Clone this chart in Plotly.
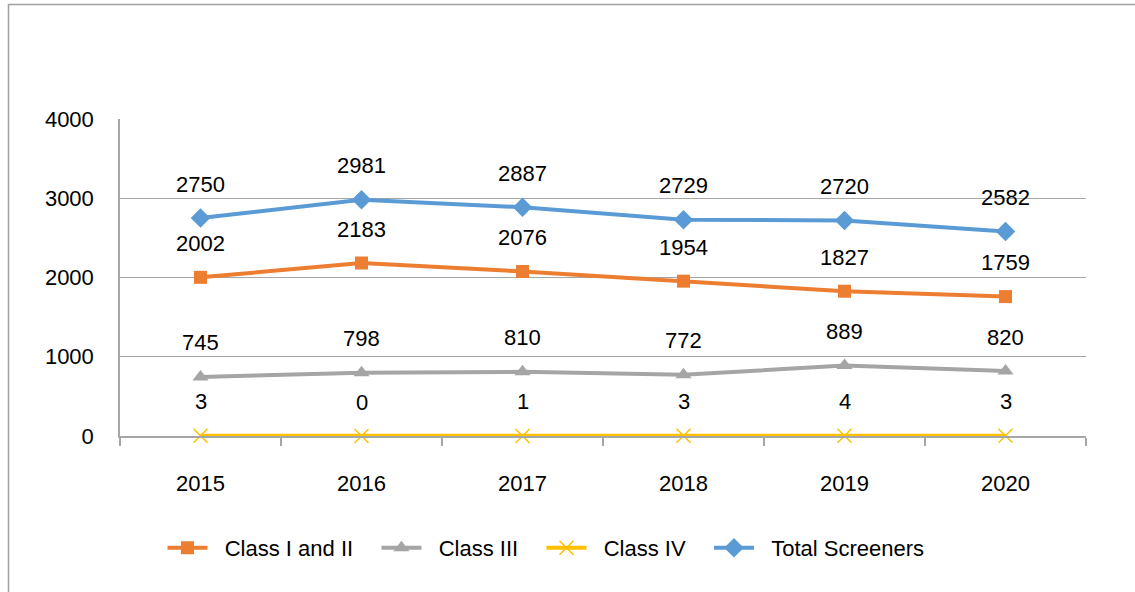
import plotly.graph_objects as go

years = ["2015", "2016", "2017", "2018", "2019", "2020"]
class_1_2 = [2002, 2183, 2076, 1954, 1827, 1759]
class_3 = [745, 798, 810, 772, 889, 820]
class_4 = [3, 0, 1, 3, 4, 3]
total = [2750, 2981, 2887, 2729, 2720, 2582]

series = [
    ("Class I and II", class_1_2, "#ED7D31", "square"),
    ("Class III", class_3, "#A5A5A5", "triangle-up"),
    ("Class IV", class_4, "#FFC000", "x-thin"),
    ("Total Screeners", total, "#5B9BD5", "diamond"),
]

FONT = "Liberation Sans, Arial, sans-serif"
NB = "\u00a0"
fig = go.Figure()
annotations = []
for name, vals, color, sym in series:
    if sym == "x-thin":
        marker = dict(symbol=sym, size=14, color=color, line=dict(color=color, width=1.5))
    elif sym == "triangle-up":
        marker = dict(symbol=sym, size=14, color=color, line=dict(width=0))
    elif sym == "square":
        marker = dict(symbol=sym, size=13, color=color, line=dict(width=0))
    else:
        marker = dict(symbol=sym, size=15, color=color, line=dict(width=0))
    fig.add_trace(go.Scatter(
        x=years, y=vals, name=NB * 2 + name + NB * 3, mode="lines+markers",
        line=dict(color=color, width=4), marker=marker, cliponaxis=False,
    ))
    for i, v in enumerate(vals):
        annotations.append(dict(x=i, y=v, xref="x", yref="y", text=str(v), showarrow=False,
                                yshift=34, font=dict(size=22, color="#000000", family=FONT)))

# outer chart border (Excel chart area)
l, r, t, b = 120, 49, 119, 156
W, H = 1135, 592
pw, ph = W - l - r, H - t - b
shapes = [dict(type="rect", xref="paper", yref="paper",
               x0=(8.5 - l) / pw, x1=(1200 - l) / pw,
               y0=(H - b - 700) / ph, y1=(H - b - 4.5) / ph,
               line=dict(color="#A0A0A0", width=1.5), fillcolor="rgba(0,0,0,0)", layer="below")]

fig.update_layout(
    width=W, height=H,
    margin=dict(l=l, r=r, t=t, b=b),
    paper_bgcolor="white", plot_bgcolor="white",
    font=dict(family=FONT, size=22, color="#000000"),
    showlegend=True,
    legend=dict(orientation="h", x=(555 - l) / pw, xanchor="center", y=(H - b - 548) / ph, yanchor="middle",
                font=dict(size=22, family=FONT), itemwidth=40, tracegroupgap=0),
    annotations=annotations,
    shapes=shapes,
    xaxis=dict(type="category", showgrid=False, showline=True, linecolor="#A6A6A6", linewidth=1.5,
               ticks="outside", tickson="boundaries", ticklen=8, tickcolor="#A6A6A6", tickwidth=1.5,
               ticklabelstandoff=27, tickfont=dict(size=22, family=FONT), range=[-0.5, 5.5]),
    yaxis=dict(range=[0, 4000], dtick=1000, showgrid=True, gridcolor="#A6A6A6", gridwidth=1,
               showline=True, linecolor="#A6A6A6", linewidth=1.5, zeroline=False, ticks="",
               ticklabelstandoff=20, tickfont=dict(size=22, family=FONT)),
)

fig.write_html("out.html", config={"displayModeBar": False},
               post_script="document.body.style.margin='0';")
